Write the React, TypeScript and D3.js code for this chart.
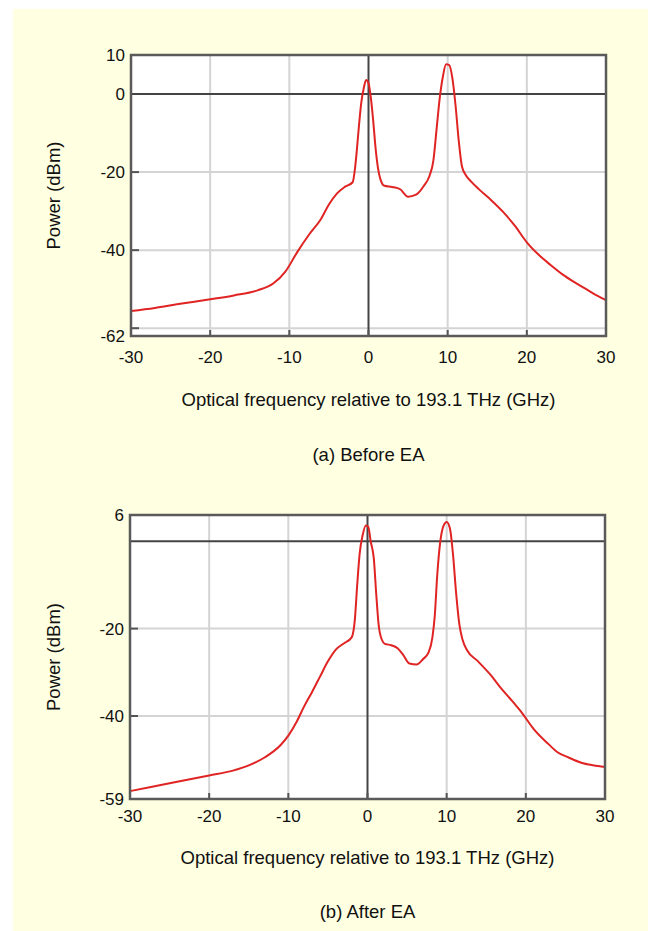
import React from 'react';
import * as d3 from 'd3';

// frequency offsets (GHz) and power (dBm)
const beforeFreq = [-30, -27, -24, -20, -17, -14, -12, -10.5, -9, -7.5, -6, -5, -4, -3, -2, -1.7, -1.5, -1.2, -0.9, -0.6, -0.3, 0, 0.3, 0.6, 0.9, 1.2, 1.5, 2, 3, 4, 5, 6, 7, 7.7, 8.2, 8.6, 9, 9.4, 9.8, 10.2, 10.6, 11, 11.4, 11.8, 12.3, 13, 14, 15.5, 17, 18.5, 20, 21.5, 23, 24.5, 26, 27.5, 29, 30];
const beforePower = [-55.6, -54.8, -53.8, -52.6, -51.6, -50.3, -48.5, -45.5, -40.5, -36, -32, -28.3, -25.5, -23.8, -22.6, -19, -15, -8, -2, 1.5, 3.6, 2.8, -1, -7, -14, -19, -21.8, -23.5, -23.8, -24.4, -26.3, -25.8, -23.5, -21, -17, -9, -1, 4.5, 7.6, 7.4, 4, -3, -12, -18.5, -20.8, -22.5, -24.5, -27.2, -30.2, -33.8, -38, -41.2, -43.8, -46.2, -48.2, -50, -51.8, -52.8];

const afterFreq = [-30, -25, -20, -17, -15, -13, -11, -10, -9, -8, -7, -6, -5, -4, -3, -2, -1.6, -1.3, -1, -0.6, -0.2, 0.1, 0.4, 0.8, 1.1, 1.4, 1.8, 2.2, 3, 3.8, 4.5, 5.3, 6.2, 7, 7.7, 8.2, 8.5, 8.8, 9.2, 9.6, 10, 10.4, 10.8, 11.2, 11.6, 12, 12.6, 13.9, 15.5, 16.8, 18, 19.6, 21, 22.9, 24, 25.4, 27, 28.5, 30];
const afterPower = [-57.2, -55.4, -53.6, -52.5, -51.3, -49.5, -46.7, -44.5, -41.5, -37.8, -34.5, -31, -27.5, -24.8, -23.4, -22, -18, -10, -3, 1.5, 3.6, 3.3, 0, -4, -12, -19, -22.5, -23.5, -23.8, -24.5, -26, -28, -28.2, -27, -25.5, -22, -17, -8, 0, 3.5, 4.4, 3, -3, -12, -19, -22.5, -25, -27.4, -30.5, -33.5, -36, -39.5, -43, -46.5, -48.3, -49.5, -50.7, -51.3, -51.7];

const xTicks = [-30, -20, -10, 0, 10, 20, 30];
const beforeYTicks = [10, 0, -20, -40, -62];
const beforeYGrid = [-20, -40, -60];
const afterYTicks = [6, -20, -40, -59];
const afterYGrid = [-20, -40];

const xTitle = 'Optical frequency relative to 193.1 THz (GHz)';
const font = 'Liberation Sans, Arial, sans-serif';

type PanelProps = {
  left: number; right: number; top: number; bottom: number;
  yMin: number; yMax: number;
  yTicks: number[]; yGrid: number[];
  freq: number[]; power: number[];
  caption: string;
  tickDy: number; titleDy: number; captionDy: number;
};

const Panel = (p: PanelProps) => {
  const { left, right, top, bottom } = p;
  const x = d3.scaleLinear().domain([-30, 30]).range([left, right]);
  const y = d3.scaleLinear().domain([p.yMin, p.yMax]).range([bottom, top]);
  const pts = p.freq.map((f, i) => [f, p.power[i]] as [number, number]);
  const path = d3.line<[number, number]>()
    .x(d => x(d[0]))
    .y(d => y(d[1]))
    .curve(d3.curveMonotoneX)(pts) || '';
  const midX = (left + right) / 2;

  return (
    <g>
      <rect x={left} y={top} width={right - left} height={bottom - top} fill="#fff" />
      {xTicks.filter(t => t !== -30 && t !== 30 && t !== 0).map(t => (
        <line key={'gx' + t} x1={x(t)} x2={x(t)} y1={top} y2={bottom} stroke="#d4d4d4" strokeWidth={2} />
      ))}
      {p.yGrid.map(t => (
        <line key={'gy' + t} x1={left} x2={right} y1={y(t)} y2={y(t)} stroke="#d4d4d4" strokeWidth={2} />
      ))}
      <line x1={x(0)} x2={x(0)} y1={top} y2={bottom} stroke="#444" strokeWidth={2} />
      <line x1={left} x2={right} y1={y(0)} y2={y(0)} stroke="#444" strokeWidth={2} />
      {xTicks.map(t => (
        <line key={'tx' + t} x1={x(t)} x2={x(t)} y1={bottom} y2={bottom - 6} stroke="#555" strokeWidth={2} />
      ))}
      {p.yGrid.map(t => (
        <line key={'ty' + t} x1={left} x2={left + 8} y1={y(t)} y2={y(t)} stroke="#555" strokeWidth={2} />
      ))}
      <path d={path} fill="none" stroke="#e02424" strokeWidth={2} />
      <rect x={left} y={top} width={right - left} height={bottom - top} fill="none" stroke="#5a5a5a" strokeWidth={2.5} />
      {xTicks.map(t => (
        <text key={'lx' + t} x={x(t)} y={bottom + p.tickDy} textAnchor="middle" fontSize={17} fontFamily={font} fill="#111">{t}</text>
      ))}
      {p.yTicks.map(t => (
        <text key={'ly' + t} x={left - 6} y={y(t) + 6} textAnchor="end" fontSize={17} fontFamily={font} fill="#111">{t}</text>
      ))}
      <text transform={`translate(60,${(top + bottom) / 2}) rotate(-90)`} textAnchor="middle" fontSize={18.5} fontFamily={font} fill="#111">Power (dBm)</text>
      <text x={midX} y={bottom + p.titleDy} textAnchor="middle" fontSize={18.5} fontFamily={font} fill="#111">{xTitle}</text>
      <text x={midX} y={bottom + p.captionDy} textAnchor="middle" fontSize={18.5} fontFamily={font} fill="#111">{p.caption}</text>
    </g>
  );
};

export default function App() {
  return (
    <svg width={648} height={931} style={{ position: 'absolute', left: 0, top: 0 }}>
      <rect x={0} y={0} width={648} height={931} fill="#fff" />
      <rect x={13} y={9} width={635} height={922} fill="#ffffe1" />
      <Panel left={131} right={606} top={55} bottom={336} yMin={-62} yMax={10}
        yTicks={beforeYTicks} yGrid={beforeYGrid} freq={beforeFreq} power={beforePower} caption="(a) Before EA"
        tickDy={27} titleDy={70} captionDy={125} />
      <Panel left={130} right={605} top={515} bottom={799} yMin={-59} yMax={6}
        yTicks={afterYTicks} yGrid={afterYGrid} freq={afterFreq} power={afterPower} caption="(b) After EA"
        tickDy={23} titleDy={65} captionDy={119} />
    </svg>
  );
}
